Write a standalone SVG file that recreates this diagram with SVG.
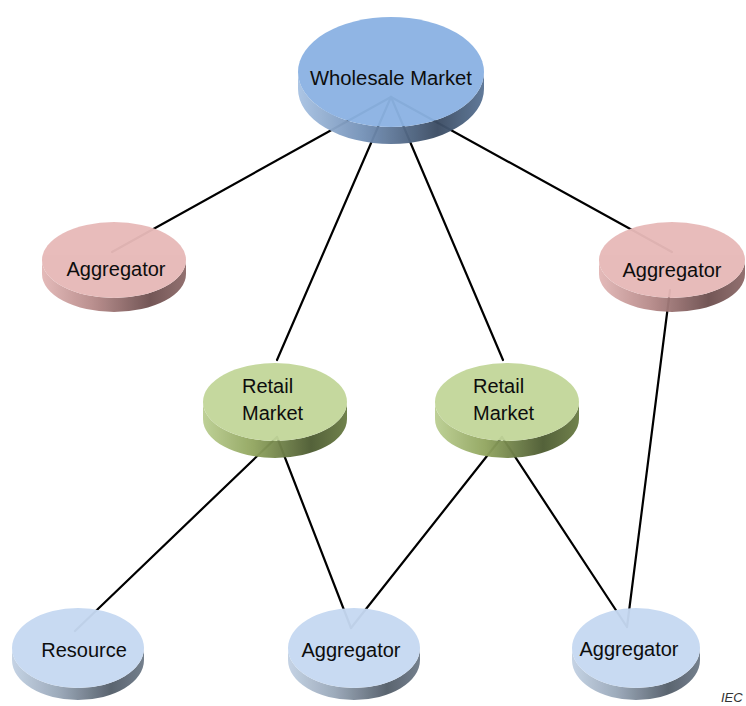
<svg xmlns="http://www.w3.org/2000/svg" width="746" height="706" viewBox="0 0 746 706">
  <defs>
    <!-- side-wall shading for the disk shapes: light at left, dark toward right -->
    <linearGradient id="sideBlue" x1="0" y1="0" x2="1" y2="0">
      <stop offset="0" stop-color="#a9c3e3"/>
      <stop offset="0.35" stop-color="#7592b8"/>
      <stop offset="0.75" stop-color="#3c4d64"/>
      <stop offset="1" stop-color="#5b7596"/>
    </linearGradient>
    <linearGradient id="sidePink" x1="0" y1="0" x2="1" y2="0">
      <stop offset="0" stop-color="#e3b8b7"/>
      <stop offset="0.35" stop-color="#b88c8b"/>
      <stop offset="0.75" stop-color="#6e5050"/>
      <stop offset="1" stop-color="#8f6c6b"/>
    </linearGradient>
    <linearGradient id="sideGreen" x1="0" y1="0" x2="1" y2="0">
      <stop offset="0" stop-color="#bccf93"/>
      <stop offset="0.35" stop-color="#92a660"/>
      <stop offset="0.75" stop-color="#4e5c33"/>
      <stop offset="1" stop-color="#6b7d45"/>
    </linearGradient>
    <linearGradient id="sideLight" x1="0" y1="0" x2="1" y2="0">
      <stop offset="0" stop-color="#c3d2e4"/>
      <stop offset="0.35" stop-color="#9aa8b9"/>
      <stop offset="0.75" stop-color="#545e6a"/>
      <stop offset="1" stop-color="#6f7b89"/>
    </linearGradient>
  </defs>
  <style>
    .edge { stroke: #000; stroke-width: 2.2; fill: none; stroke-linecap: round; }
    .disk { opacity: 0.96; }
    .lbl { font-family: "Liberation Sans", Arial, sans-serif; font-size: 20px; fill: #0d0d0d; }
    .mid { text-anchor: middle; }
    .faceBlue { fill: #8cb3e3; }
    .facePink { fill: #e7b9b8; }
    .faceGreen { fill: #c3d79b; }
    .faceLight { fill: #c6d9f2; }
    .note { font-family: "Liberation Sans", Arial, sans-serif; font-size: 13px; font-style: italic; fill: #333; }
  </style>

  <rect width="746" height="706" fill="#fff"/>

  <!-- connectors, drawn beneath the disks -->
  <g id="connectors">
    <line class="edge" x1="391" y1="97" x2="112" y2="252"/>
    <line class="edge" x1="391" y1="97" x2="277" y2="360"/>
    <line class="edge" x1="391" y1="97" x2="503" y2="360"/>
    <line class="edge" x1="391" y1="97" x2="672" y2="252"/>
    <line class="edge" x1="277" y1="437" x2="75" y2="631"/>
    <line class="edge" x1="277" y1="437" x2="351" y2="628"/>
    <line class="edge" x1="502" y1="437" x2="351" y2="628"/>
    <line class="edge" x1="502" y1="437" x2="627" y2="627"/>
    <line class="edge" x1="670" y1="290" x2="627" y2="627"/>
  </g>

  <g id="wholesale-market">
    <g class="disk">
      <path d="M298,72 L298,89 A93,55 0 0 0 484,89 L484,72 A93,55 0 0 1 298,72 Z" fill="url(#sideBlue)"/>
      <ellipse class="faceBlue" cx="391" cy="72" rx="93" ry="55"/>
    </g>
    <text class="lbl mid" x="391" y="85" textLength="162" lengthAdjust="spacingAndGlyphs">Wholesale Market</text>
  </g>

  <g id="aggregator-left">
    <g class="disk">
      <path d="M42,260 L42,274 A72,38 0 0 0 186,274 L186,260 A72,38 0 0 1 42,260 Z" fill="url(#sidePink)"/>
      <ellipse class="facePink" cx="114" cy="260" rx="72" ry="38"/>
    </g>
    <text class="lbl mid" x="116" y="276">Aggregator</text>
  </g>

  <g id="aggregator-right">
    <g class="disk">
      <path d="M599,260 L599,274 A73,38 0 0 0 745,274 L745,260 A73,38 0 0 1 599,260 Z" fill="url(#sidePink)"/>
      <ellipse class="facePink" cx="672" cy="260" rx="73" ry="38"/>
    </g>
    <text class="lbl mid" x="672" y="277">Aggregator</text>
  </g>

  <g id="retail-market-left">
    <g class="disk">
      <path d="M203,402 L203,419 A72,39 0 0 0 347,419 L347,402 A72,39 0 0 1 203,402 Z" fill="url(#sideGreen)"/>
      <ellipse class="faceGreen" cx="275" cy="402" rx="72" ry="39"/>
    </g>
    <text class="lbl" x="242" y="393">Retail</text>
    <text class="lbl" x="242" y="420">Market</text>
  </g>

  <g id="retail-market-right">
    <g class="disk">
      <path d="M435,402 L435,419 A72,39 0 0 0 579,419 L579,402 A72,39 0 0 1 435,402 Z" fill="url(#sideGreen)"/>
      <ellipse class="faceGreen" cx="507" cy="402" rx="72" ry="39"/>
    </g>
    <text class="lbl" x="473" y="393">Retail</text>
    <text class="lbl" x="473" y="420">Market</text>
  </g>

  <g id="resource">
    <g class="disk">
      <path d="M12,648 L12,660 A66,40 0 0 0 144,660 L144,648 A66,40 0 0 1 12,648 Z" fill="url(#sideLight)"/>
      <ellipse class="faceLight" cx="78" cy="648" rx="66" ry="40"/>
    </g>
    <text class="lbl mid" x="84" y="657">Resource</text>
  </g>

  <g id="aggregator-bottom-middle">
    <g class="disk">
      <path d="M288,648 L288,660 A66,40 0 0 0 420,660 L420,648 A66,40 0 0 1 288,648 Z" fill="url(#sideLight)"/>
      <ellipse class="faceLight" cx="354" cy="648" rx="66" ry="40"/>
    </g>
    <text class="lbl mid" x="351" y="657">Aggregator</text>
  </g>

  <g id="aggregator-bottom-right">
    <g class="disk">
      <path d="M572,648 L572,660 A64,40 0 0 0 700,660 L700,648 A64,40 0 0 1 572,648 Z" fill="url(#sideLight)"/>
      <ellipse class="faceLight" cx="636" cy="648" rx="64" ry="40"/>
    </g>
    <text class="lbl mid" x="629" y="656">Aggregator</text>
  </g>

  <text class="note" x="721" y="702">IEC</text>
</svg>
